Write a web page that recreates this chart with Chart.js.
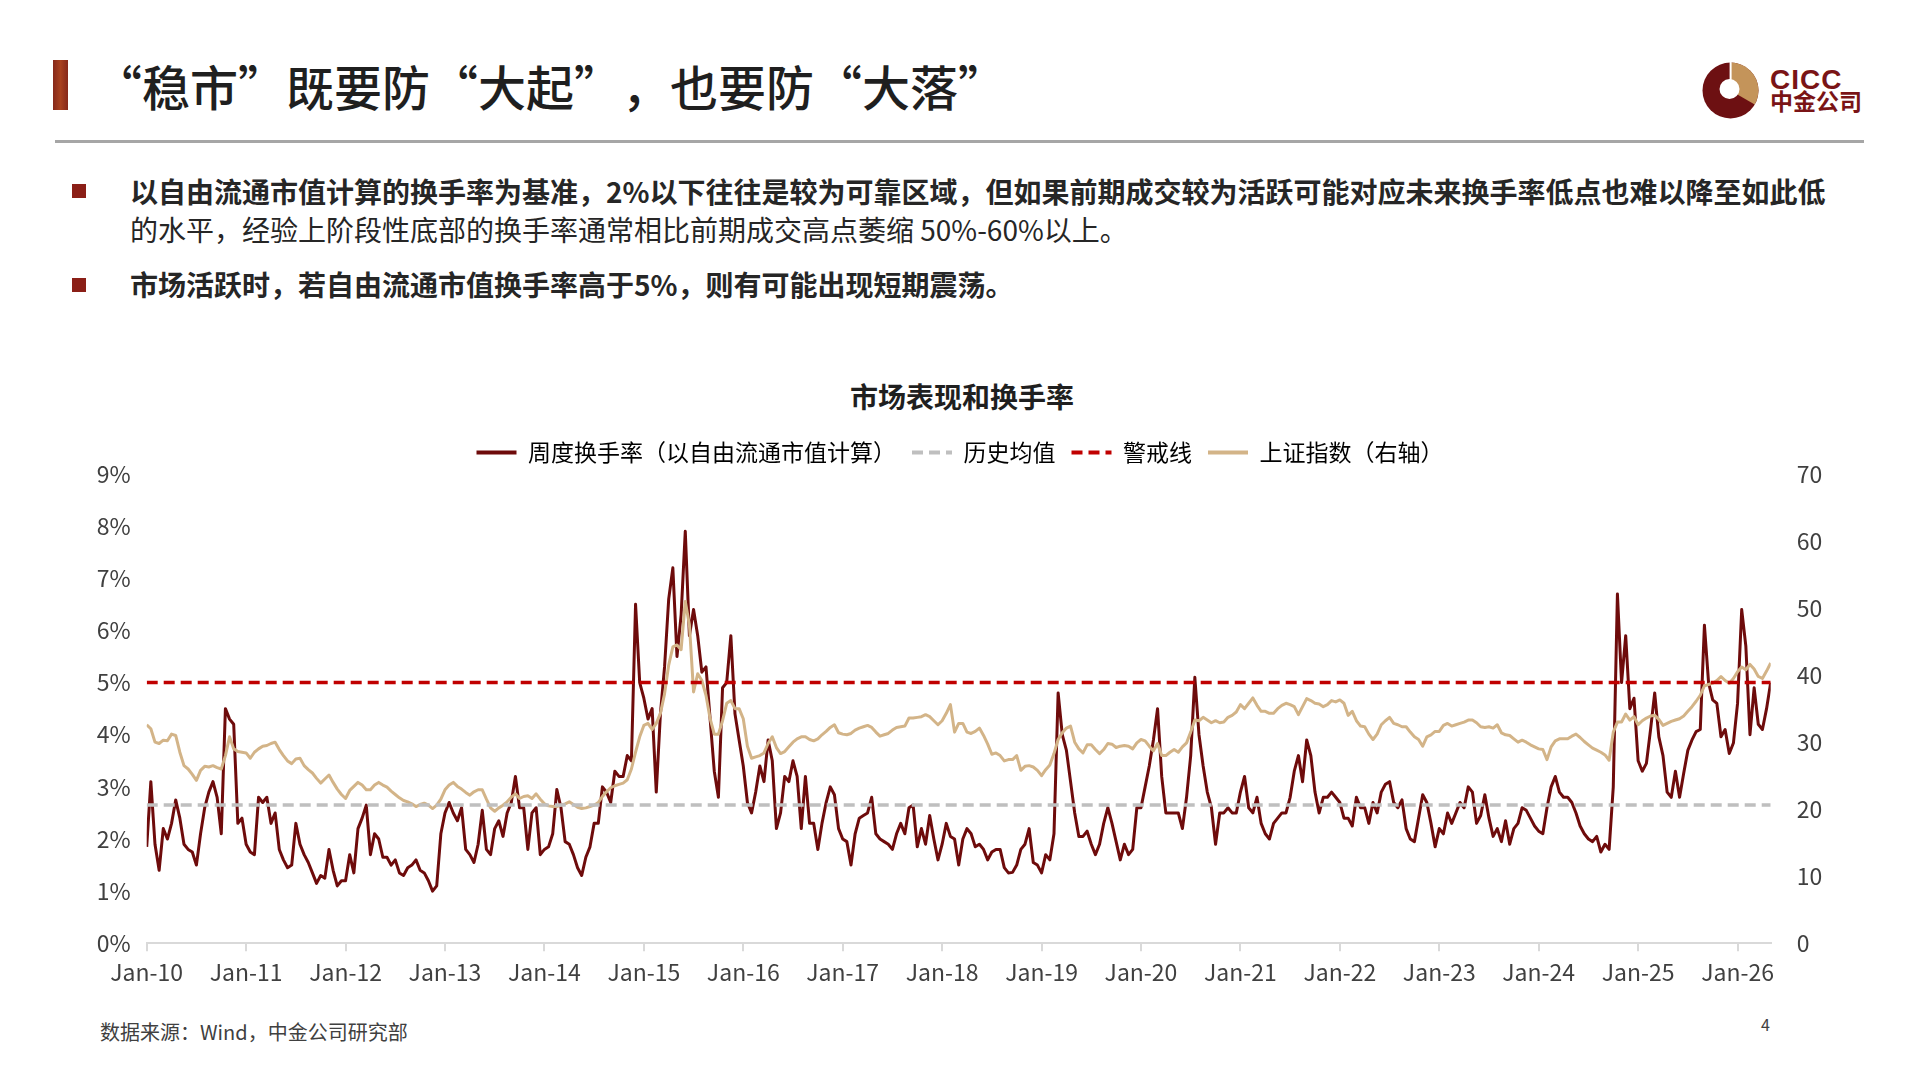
<!DOCTYPE html>
<html lang="zh-CN">
<head>
<meta charset="utf-8">
<title>市场表现和换手率</title>
<script src="https://cdn.jsdelivr.net/npm/chart.js@4.4.1/dist/chart.umd.min.js"></script>
<style>
  html, body { margin: 0; padding: 0; background: #fff; }
  body { width: 1916px; height: 1077px; position: relative; overflow: hidden;
         font-family: 'Noto Sans CJK SC', 'Noto Sans', sans-serif; color: #262626; }
  .abs { position: absolute; white-space: nowrap; line-height: 1.2; transform: translateY(-50%); }
  #bar { position: absolute; left: 53px; top: 60px; width: 15px; height: 50px;
         background: linear-gradient(90deg, #86281a, #a8411f 50%, #86281a); }
  #title { left: 94px; top: 86px; font-size: 48px; font-weight: 500; color: #1f1f1f;
           font-feature-settings: "fwid" 1; text-spacing-trim: space-all; }
  #rule { position: absolute; left: 55px; top: 140px; width: 1809px; height: 3px; background: #a6a6a6; }
  .sq { position: absolute; left: 72px; width: 14px; height: 14px; background: #8b1f17; }
  .txt { left: 130px; font-size: 28px; color: #262626; }
  .b { font-weight: 700; }
  #logo { position: absolute; left: 1702px; top: 62px; }
  #cicc { left: 1770px; top: 80px; font-family: 'Liberation Sans', Arial, sans-serif; font-weight: 700;
          font-size: 28px; color: #7a1416; letter-spacing: 1px; }
  #cicccn { left: 1770px; top: 101px; font-size: 23px; font-weight: 700; color: #7a1416; }
  #ctitle { left: 962px; top: 397px; font-size: 28px; font-weight: 600; color: #1f1f1f;
            transform: translate(-50%, -50%); }
  #chartBox { position: absolute; left: 40px; top: 425px; width: 1840px; height: 585px; }
  #src { left: 100px; top: 1032px; font-size: 20px; color: #404040; }
  #page { left: 1761px; top: 1025px; font-size: 16px; color: #404040; }
</style>
</head>
<body>
<div id="bar"></div>
<div id="title" class="abs">“稳市”既要防“大起”，也要防“大落”</div>
<svg id="logo" width="57" height="57" viewBox="0 0 57 57">
  <circle cx="28.5" cy="28.5" r="28" fill="#6d1012"/>
  <path d="M28.5 28.5 L28.5 0.5 A28 28 0 0 1 52.7 42.5 Z" fill="#c4945a"/>
  <circle cx="27.5" cy="27" r="10" fill="#fff"/>
  <rect x="27.6" y="0" width="2" height="18" fill="#fff"/>
</svg>
<div id="cicc" class="abs">CICC</div>
<div id="cicccn" class="abs">中金公司</div>
<div id="rule"></div>

<div class="sq" style="top:184px"></div>
<div class="abs txt b" style="top:192px">以自由流通市值计算的换手率为基准，2%以下往往是较为可靠区域，但如果前期成交较为活跃可能对应未来换手率低点也难以降至如此低</div>
<div class="abs txt" style="top:230px">的水平，经验上阶段性底部的换手率通常相比前期成交高点萎缩 50%-60%以上。</div>
<div class="sq" style="top:278px"></div>
<div class="abs txt b" style="top:285px">市场活跃时，若自由流通市值换手率高于5%，则有可能出现短期震荡。</div>

<div id="ctitle" class="abs">市场表现和换手率</div>
<div id="chartBox"><canvas id="turnoverChart"></canvas></div>

<div id="src" class="abs">数据来源：Wind，中金公司研究部</div>
<div id="page" class="abs">4</div>

<script>
// x axis tick labels, one per January
const xTickLabels = ['Jan-10', 'Jan-11', 'Jan-12', 'Jan-13', 'Jan-14', 'Jan-15', 'Jan-16', 'Jan-17',
  'Jan-18', 'Jan-19', 'Jan-20', 'Jan-21', 'Jan-22', 'Jan-23', 'Jan-24', 'Jan-25', 'Jan-26'];

const turnoverPct = [
  1.85, 3.1, 1.9, 1.4, 2.2, 2.0, 2.3, 2.75, 2.4, 1.9, 1.8, 1.75, 1.5, 2.1, 2.6, 2.9, 3.1, 2.8, 2.1, 4.5, 4.3, 4.2, 2.3, 2.4,
  1.9, 1.75, 1.7, 2.8, 2.7, 2.8, 2.3, 2.5, 1.8, 1.6, 1.45, 1.5, 2.3, 1.9, 1.7, 1.55, 1.35, 1.15, 1.3, 1.25, 1.8, 1.4, 1.1, 1.2,
  1.2, 1.7, 1.35, 2.2, 2.4, 2.65, 1.7, 2.1, 2.0, 1.65, 1.65, 1.5, 1.6, 1.35, 1.3, 1.45, 1.5, 1.6, 1.4, 1.35, 1.2, 1.0, 1.1, 2.1,
  2.5, 2.7, 2.5, 2.35, 2.6, 1.8, 1.7, 1.55, 1.9, 2.55, 1.8, 1.7, 2.2, 2.35, 2.05, 2.5, 2.7, 3.2, 2.6, 2.6, 1.8, 2.5, 2.6, 1.7,
  1.8, 1.85, 2.1, 2.95, 2.6, 1.95, 1.9, 1.7, 1.45, 1.3, 1.65, 1.85, 2.3, 2.3, 3.0, 2.9, 2.7, 3.3, 3.2, 3.2, 3.6, 3.5, 6.5, 5.0,
  4.7, 4.3, 4.5, 2.9, 4.4, 5.3, 6.6, 7.2, 5.5, 6.3, 7.9, 5.9, 6.4, 5.9, 5.2, 5.3, 4.3, 3.3, 2.8, 4.9, 5.0, 5.9, 4.4, 3.9,
  3.4, 2.7, 2.5, 2.9, 3.4, 3.1, 3.9, 3.5, 2.2, 2.5, 3.2, 3.1, 3.5, 3.2, 2.2, 3.2, 2.3, 2.3, 1.8, 2.3, 2.7, 3.0, 2.85, 2.2,
  2.0, 1.95, 1.5, 2.1, 2.4, 2.45, 2.5, 2.8, 2.1, 2.0, 1.95, 1.9, 1.8, 2.1, 2.3, 2.1, 2.6, 2.65, 1.85, 2.2, 1.9, 2.45, 2.0, 1.6,
  1.9, 2.3, 2.05, 2.0, 1.5, 2.0, 2.2, 2.1, 1.85, 1.9, 1.8, 1.6, 1.75, 1.8, 1.8, 1.45, 1.35, 1.36, 1.5, 1.8, 1.9, 2.2, 1.55, 1.5,
  1.35, 1.7, 1.6, 2.1, 4.8, 4.0, 3.7, 3.1, 2.5, 2.05, 2.05, 2.15, 1.9, 1.7, 1.9, 2.3, 2.6, 2.3, 1.95, 1.6, 1.9, 1.7, 1.8, 2.6,
  2.6, 3.0, 3.4, 3.9, 4.5, 3.2, 2.5, 2.5, 2.5, 2.5, 2.2, 2.8, 3.6, 5.1, 4.0, 3.4, 2.9, 2.6, 1.9, 2.5, 2.5, 2.6, 2.5, 2.5,
  2.9, 3.2, 2.6, 2.5, 2.8, 2.3, 2.1, 2.0, 2.3, 2.4, 2.5, 2.5, 2.8, 3.3, 3.6, 3.1, 3.9, 3.6, 2.9, 2.5, 2.8, 2.8, 2.9, 2.8,
  2.7, 2.4, 2.4, 2.25, 2.8, 2.6, 2.6, 2.3, 2.7, 2.5, 2.9, 3.05, 3.1, 2.7, 2.6, 2.75, 2.2, 2.0, 1.95, 2.4, 2.85, 2.7, 2.3, 1.85,
  2.2, 2.1, 2.5, 2.3, 2.5, 2.7, 2.6, 3.0, 2.9, 2.3, 2.45, 2.85, 2.4, 2.05, 2.2, 1.95, 2.35, 1.9, 2.2, 2.3, 2.6, 2.55, 2.4, 2.25,
  2.15, 2.1, 2.6, 3.0, 3.2, 2.9, 2.8, 2.8, 2.7, 2.5, 2.25, 2.1, 2.0, 1.95, 2.05, 1.75, 1.9, 1.8, 3.0, 6.7, 5.0, 5.9, 4.5, 4.7,
  3.5, 3.3, 3.45, 4.1, 4.8, 3.96, 3.6, 2.9, 2.8, 3.3, 2.8, 3.26, 3.7, 3.9, 4.06, 4.1, 6.1, 5.0, 4.67, 4.6, 3.96, 4.1, 3.64, 3.84,
  4.6, 6.4, 5.7, 4.0, 4.9, 4.2, 4.1, 4.5, 5.0
];

// Shanghai composite (right axis, hundreds of points), same dates
const shIndex = [
  32.6, 32.0, 30.0, 29.8, 30.3, 30.2, 31.2, 31.0, 28.5, 26.5, 26.0, 25.2, 24.3, 25.8, 26.4, 26.3, 26.5, 26.2, 26.0, 28.0, 30.8, 29.0, 28.6, 28.5,
  28.4, 27.6, 28.5, 29.0, 29.4, 29.5, 29.8, 30.0, 28.9, 28.0, 27.2, 26.8, 27.5, 27.6, 26.5, 25.9, 25.4, 24.6, 23.9, 24.5, 25.1, 24.0, 23.0, 22.2,
  21.6, 22.8, 23.4, 24.0, 23.6, 22.9, 22.9, 23.6, 24.0, 23.6, 23.3, 22.7, 22.2, 21.7, 21.3, 21.1, 20.8, 20.4, 20.7, 20.9, 20.6, 20.1, 20.6, 21.5,
  22.9, 23.6, 24.0, 23.4, 23.0, 22.5, 22.1, 22.6, 22.9, 22.9, 21.5, 20.2, 19.7, 20.2, 20.6, 21.1, 21.8, 22.3, 21.6, 21.9, 22.0, 21.6, 22.3, 21.5,
  20.8, 20.5, 20.4, 20.4, 20.6, 20.8, 21.1, 20.7, 20.3, 20.1, 20.2, 20.4, 20.6, 21.0, 21.9, 22.6, 23.2, 23.5, 23.7, 23.9, 24.4, 26.0, 28.5, 30.8,
  32.5, 32.8, 31.9, 32.8, 34.3, 37.2, 41.5, 44.2, 44.5, 43.8, 51.0, 47.5, 37.5, 40.2, 39.2, 37.0, 33.5, 31.2, 31.2, 33.2, 35.8, 36.2, 35.0, 35.0,
  33.5, 29.4, 27.6, 27.8, 28.0, 28.4, 29.8, 30.8, 29.2, 28.3, 28.6, 29.3, 30.0, 30.5, 30.8, 30.8, 30.4, 30.2, 30.5, 31.1, 31.6, 32.2, 32.6, 31.4,
  31.2, 31.1, 31.3, 31.8, 32.1, 32.3, 32.5, 32.2, 31.5, 30.9, 31.1, 31.3, 31.8, 32.2, 32.3, 32.4, 33.6, 33.6, 33.7, 33.8, 34.1, 33.8, 33.2, 32.6,
  33.2, 34.3, 35.6, 31.5, 32.8, 32.8, 31.5, 31.3, 31.6, 32.1, 31.0, 29.7, 28.2, 28.4, 28.0, 27.2, 27.4, 27.4, 28.0, 25.8, 26.4, 26.5, 26.3, 25.8,
  25.0, 25.9, 26.6, 28.3, 30.4, 31.4, 32.1, 32.4, 30.0, 29.0, 28.4, 29.6, 29.6, 28.9, 28.3, 28.9, 29.8, 29.7, 29.2, 29.4, 29.5, 29.4, 29.0, 29.9,
  30.4, 30.2, 29.4, 28.7, 29.8, 28.0, 28.0, 28.5, 28.9, 28.5, 29.3, 29.9, 31.5, 33.3, 33.2, 33.7, 33.3, 32.9, 33.2, 32.9, 33.0, 33.7, 34.0, 34.5,
  35.6, 35.0, 35.8, 36.6, 35.5, 34.6, 34.6, 34.3, 34.3, 35.0, 35.5, 35.8, 35.6, 35.3, 34.1, 35.3, 36.5, 36.2, 35.8, 35.7, 35.3, 35.6, 36.2, 36.0,
  36.3, 35.8, 34.0, 34.6, 33.2, 32.4, 32.3, 31.2, 30.4, 31.2, 32.6, 33.2, 33.7, 32.8, 32.6, 32.3, 32.3, 31.5, 30.8, 30.4, 29.4, 30.8, 31.1, 31.6,
  31.6, 32.5, 32.8, 32.4, 32.6, 32.8, 33.0, 33.3, 33.3, 32.9, 32.3, 32.2, 32.3, 32.1, 32.6, 31.4, 31.1, 31.0, 30.5, 30.0, 30.3, 30.0, 29.6, 29.3,
  29.0, 28.9, 27.4, 29.3, 30.2, 30.5, 30.5, 30.5, 30.9, 31.2, 30.7, 30.1, 29.6, 29.1, 28.8, 28.5, 28.1, 27.3, 31.5, 33.0, 33.0, 34.2, 33.3, 33.8,
  32.6, 33.2, 33.6, 33.9, 34.0, 33.4, 32.5, 32.8, 33.1, 33.3, 33.5, 33.9, 34.6, 35.3, 36.1, 37.0, 38.4, 38.6, 38.8, 39.2, 39.8, 39.2, 38.8, 39.5,
  40.5, 41.2, 40.8, 41.6, 40.9, 39.8, 39.5, 40.6, 41.8
];

const avgTurnover = 2.65;   // 历史均值
const warnTurnover = 5;     // 警戒线
const yLeftTicks = [0, 9];  // %
const yRightTicks = [0, 70];

// points are half a month apart, x in months since Jan 2010
const lastX = (turnoverPct.length - 1) / 2;
const toPoints = arr => arr.map((v, i) => ({ x: i / 2, y: v }));
const flat = v => [{ x: 0, y: v }, { x: lastX, y: v }];

Chart.defaults.font.family = "'Noto Sans CJK SC', 'Noto Sans', sans-serif";
Chart.defaults.color = '#404040';

const ctx = document.getElementById('turnoverChart').getContext('2d');
new Chart(ctx, {
  type: 'line',
  data: {
    datasets: [{
      label: '周度换手率（以自由流通市值计算）',
      data: toPoints(turnoverPct),
      yAxisID: 'y',
      borderColor: '#6e0b0b',
      borderWidth: 3,
      order: 4
    }, {
      label: '历史均值',
      data: flat(avgTurnover),
      yAxisID: 'y',
      borderColor: '#bfbfbf',
      borderWidth: 3.5,
      borderDash: [11, 6],
      order: 2
    }, {
      label: '警戒线',
      data: flat(warnTurnover),
      yAxisID: 'y',
      borderColor: '#c00000',
      borderWidth: 3.5,
      borderDash: [11, 6],
      order: 1
    }, {
      label: '上证指数（右轴）',
      data: toPoints(shIndex),
      yAxisID: 'y1',
      borderColor: '#d3b488',
      borderWidth: 3,
      order: 3
    }]
  },
  options: {
    responsive: true,
    maintainAspectRatio: false,
    animation: false,
    elements: {
      point: { radius: 0 },
      line: { tension: 0, borderJoinStyle: 'round', fill: false }
    },
    layout: { padding: 0 },
    plugins: {
      title: { display: false },
      tooltip: { enabled: false },
      legend: {
        position: 'top',
        labels: {
          usePointStyle: true,
          pointStyleWidth: 40,
          padding: 16,
          color: '#262626',
          font: { size: 23 },
          generateLabels: chart => chart.data.datasets.map((ds, i) => ({
            text: ds.label,
            fillStyle: ds.borderColor,
            strokeStyle: ds.borderColor,
            lineWidth: 4,
            lineDash: ds.borderDash || [],
            pointStyle: 'line',
            datasetIndex: i,
            hidden: false
          }))
        }
      }
    },
    scales: {
      x: {
        type: 'linear',
        min: 0,
        max: lastX,
        afterBuildTicks: axis => { axis.ticks = xTickLabels.map((t, i) => ({ value: i * 12 })); },
        afterFit: axis => { axis.height = 66.7; },
        ticks: {
          autoSkip: false,
          maxRotation: 0,
          padding: 7,
          font: { size: 23 },
          color: '#404040',
          callback: v => xTickLabels[Math.round(v / 12)]
        },
        grid: { display: true, drawOnChartArea: false, drawTicks: true, tickLength: 8, color: '#d9d9d9', lineWidth: 2 },
        border: { display: true, color: '#d9d9d9', width: 2 }
      },
      y: {
        position: 'left',
        min: yLeftTicks[0],
        max: yLeftTicks[1],
        afterFit: axis => { axis.width = 106.7; },
        ticks: { stepSize: 1, padding: 16, font: { size: 23 }, color: '#404040', callback: v => v + '%' },
        grid: { display: false, drawTicks: false },
        border: { display: false }
      },
      y1: {
        position: 'right',
        min: yRightTicks[0],
        max: yRightTicks[1],
        afterFit: axis => { axis.width = 109.3; },
        ticks: { stepSize: 10, padding: 26, font: { size: 23 }, color: '#404040' },
        grid: { display: false, drawTicks: false },
        border: { display: false }
      }
    }
  }
});
</script>
</body>
</html>
